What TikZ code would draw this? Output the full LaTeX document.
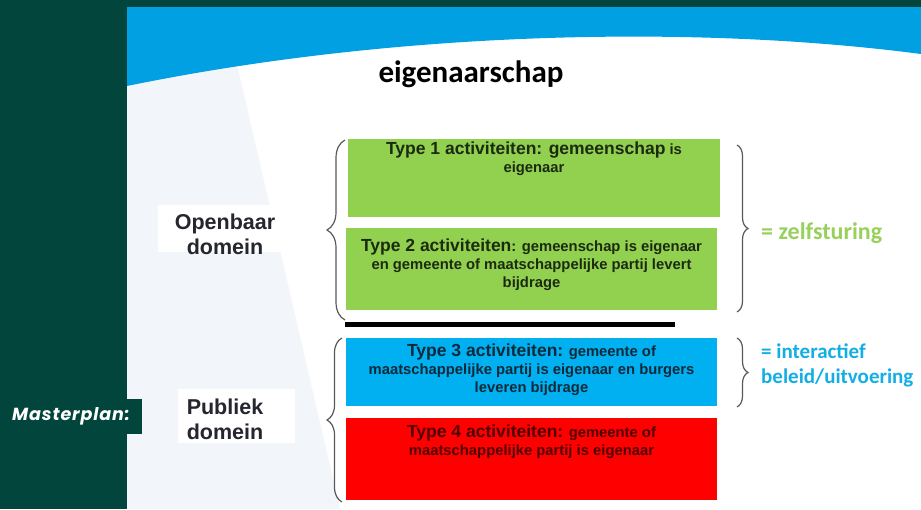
\documentclass[tikz,border=0pt]{standalone}
\usepackage{fontspec}
\setmainfont{Liberation Sans}
\newfontfamily\calib{Carlito}
\newfontfamily\popp{Poppins}[LetterSpace=5]
\usetikzlibrary{decorations.pathreplacing}
\definecolor{darkbg}{HTML}{02453C}
\definecolor{slideblue}{HTML}{00A0E2}
\definecolor{paleblue}{HTML}{F2F6FA}
\definecolor{boxgreen}{HTML}{92D050}
\definecolor{boxblue}{HTML}{00B0F0}
\definecolor{boxred}{HTML}{FF0000}
\definecolor{txtgreen}{HTML}{1C2A10}
\definecolor{txtblue}{HTML}{0E2A3A}
\definecolor{txtred}{HTML}{500000}
\definecolor{labgray}{HTML}{25262E}
\definecolor{bracegray}{HTML}{595959}
\definecolor{zelfgreen}{HTML}{98D05C}
\definecolor{interblue}{HTML}{14AEE6}
\newcommand{\BigT}{\fontsize{17.5}{17.5}\selectfont}
\tikzset{
  actbox/.style={draw=none, minimum width=371pt, inner sep=0pt},
  acttext/.style={anchor=north, inner sep=0pt, align=center, font=\bfseries\fontsize{14.8}{17.8}\selectfont},
  domlabel/.style={align=center, inner sep=0pt, text=labgray, font=\bfseries\fontsize{21.5}{25}\selectfont},
  whitepad/.style={fill=white, draw=none, inner sep=0pt},
  bracestyle/.style={draw=bracegray, line width=1.2pt, decorate},
}
\begin{document}
\begin{tikzpicture}[x=1pt,y=-1pt]
\useasboundingbox (0,0) rectangle (921,509);
% background
\fill[darkbg] (0,0) rectangle (921,509);
\fill[white] (127,7) rectangle (921,509);
\fill[paleblue] (127,60) -- (236,60) -- (340,509) -- (127,509) -- cycle;
\fill[slideblue] (127,7) -- (921,7) -- (921,54) .. controls (700,25) and (400,30) .. (127,86) -- cycle;
% title
\node[font=\calib\bfseries\fontsize{31}{31}\selectfont, text=black, inner sep=0pt] (title) at (471,74) {eigenaarschap};
% boxes
\node[actbox, fill=boxgreen, minimum width=372pt, minimum height=78pt] (b1) at (534,178) {};
\node[actbox, fill=boxgreen, minimum height=82pt] (b2) at (531.5,269) {};
\node[actbox, fill=boxblue, minimum height=68pt] (b3) at (531.5,372) {};
\node[actbox, fill=boxred, minimum height=82pt] (b4) at (531.5,459) {};
% box texts
\node[acttext, text=txtgreen] (t1) at ([yshift=-3pt]b1.north) {{\BigT Type 1 activiteiten: gemeenschap} is\\eigenaar};
\node[acttext, text=txtgreen] (t2) at ([yshift=-11pt]b2.north) {{\BigT Type 2 activiteiten}: gemeenschap is eigenaar\\en gemeente of maatschappelijke partij levert\\bijdrage};
\node[acttext, text=txtblue] (t3) at ([yshift=-6pt]b3.north) {{\BigT Type 3 activiteiten:} gemeente of\\maatschappelijke partij is eigenaar en burgers\\leveren bijdrage};
\node[acttext, text=txtred] (t4) at ([yshift=-7pt]b4.north) {{\BigT Type 4 activiteiten:} gemeente of\\maatschappelijke partij is eigenaar};
% separator bar
\coordinate (barl) at (345,324.5);
\coordinate (barr) at (675,324.5);
\draw[line width=5pt, black] (barl) -- (barr);
% braces
\coordinate (lb1s) at (345,320);
\coordinate (lb1e) at (345,140);
\coordinate (lb2s) at (342,502);
\coordinate (lb2e) at (342,338);
\coordinate (rb1s) at (737,145);
\coordinate (rb1e) at (737,312);
\coordinate (rb2s) at (737,338);
\coordinate (rb2e) at (737,407);
\draw[bracestyle, decoration={brace, amplitude=18pt}] (lb1s) -- (lb1e);
\draw[bracestyle, decoration={brace, amplitude=15pt}] (lb2s) -- (lb2e);
\draw[bracestyle, decoration={brace, amplitude=11pt}] (rb1s) -- (rb1e);
\draw[bracestyle, decoration={brace, amplitude=11pt}] (rb2s) -- (rb2e);
% domain labels
\node[whitepad, minimum width=125pt, minimum height=47pt] (pad1) at (220.5,228.5) {};
\node[domlabel] (open) at (225,234) {Openbaar\\domein};
\node[whitepad, minimum width=117pt, minimum height=54pt] (pad2) at (236.5,416) {};
\node[domlabel] (pub) at (225,419) {Publiek\\domein};
% right labels
\node[anchor=base west, inner sep=0pt, text=zelfgreen, font=\calib\bfseries\fontsize{24}{24}\selectfont] (zelf) at (761,239) {= zelfsturing};
\node[anchor=north west, inner sep=0pt, align=left, text=interblue, font=\calib\bfseries\fontsize{21}{25}\selectfont] (inter) at (761,344) {= interactief\\beleid/uitvoering};
% masterplan tag
\node[fill=darkbg, minimum width=142pt, minimum height=35pt, inner sep=0pt, text=white, font=\popp\bfseries\itshape\fontsize{17.5}{17.5}\selectfont] (mp) at (71,416.5) {Masterplan:};
\end{tikzpicture}
\end{document}
